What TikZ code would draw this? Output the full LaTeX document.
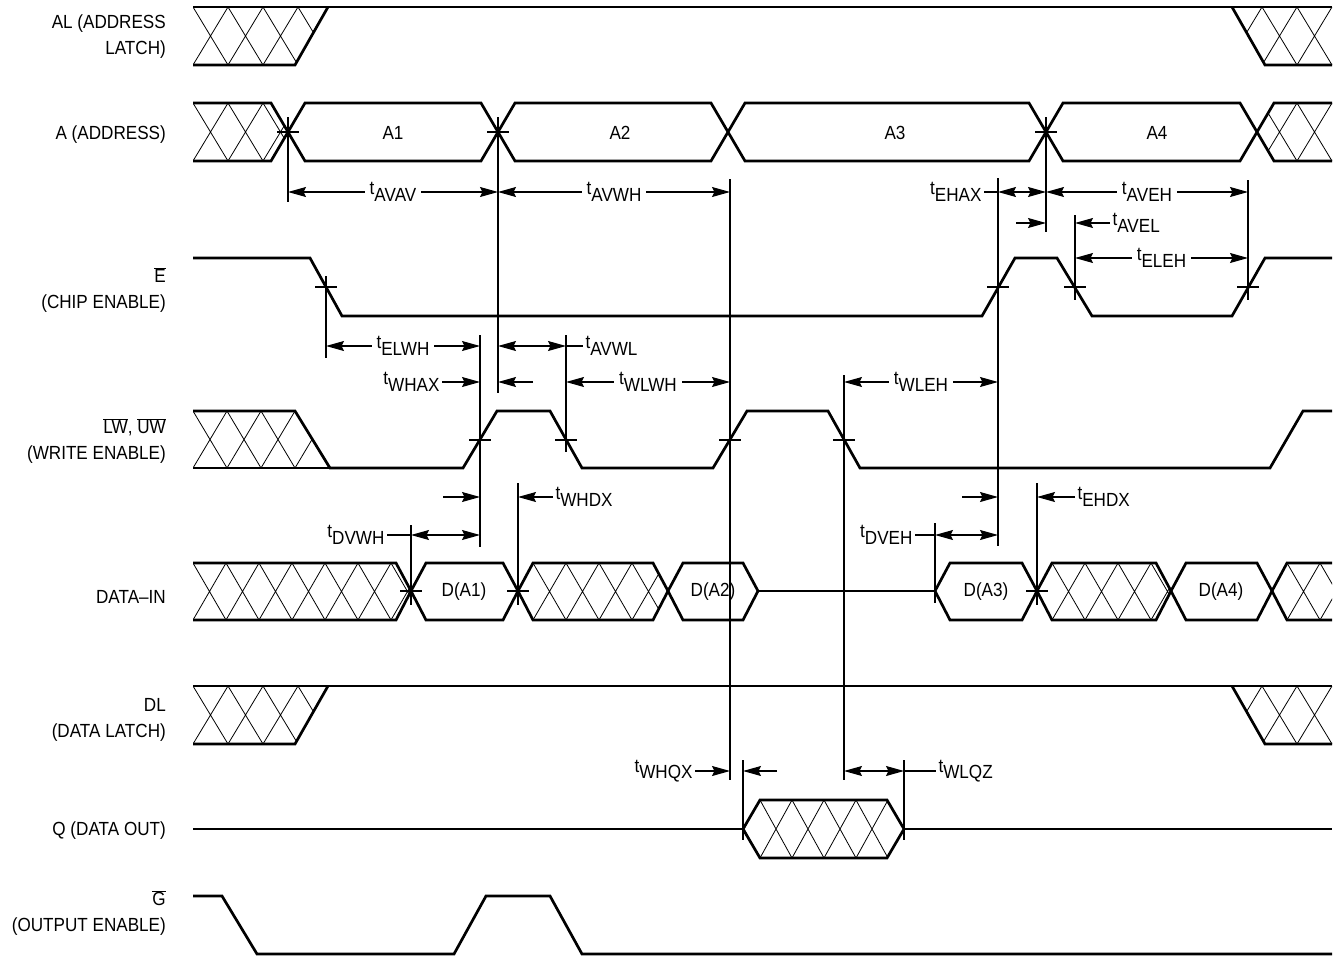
\documentclass[tikz,border=0pt]{standalone}
\usepackage{fontspec}
\setmainfont[FakeStretch=0.9]{Liberation Sans}
\usetikzlibrary{arrows.meta}

\newcommand\lblfont{\fontsize{19}{26}\selectfont}
\newcommand\tm[1]{t\raisebox{-6.5pt}{#1}}
% crossed hatching: clip path, x list, pitch, top y, bottom y
\newcommand\xhatch[5]{%
  \begin{scope}
    \clip #1;
    \foreach \x in {#2}
      \draw[hatchln] (\x,#4) -- ({\x+#3},#5) ({\x+#3},#4) -- (\x,#5);
  \end{scope}}

\tikzset{
  >={Stealth[length=18pt,width=10pt,inset=2.5pt]},
  sig/.style={line width=2.7pt,line join=miter},
  extln/.style={line width=1.1pt},
  hatchln/.style={line width=0.8pt},
  dim/.style={extln,<->},
  toarr/.style={extln,->},
  lbl/.style={anchor=east,align=right,font=\lblfont,inner sep=0pt},
  tlbl/.style={font=\lblfont,fill=white,inner xsep=5pt,inner ysep=1pt},
}

\begin{document}
\begin{tikzpicture}[x=1pt,y=-1pt]
\useasboundingbox (0,0) rectangle (1338,958);

% signal names
\node[lbl] (alName) at (166,37) {AL (ADDRESS\\LATCH)};
\node[lbl] (aName) at (166,135) {A (ADDRESS)};
\node[lbl] (eName) at (166,290) {$\overline{\hbox{E}}$\\(CHIP ENABLE)};
\node[lbl] (wName) at (166,441) {$\overline{\hbox{LW}}$, $\overline{\hbox{UW}}$\\(WRITE ENABLE)};
\node[lbl] (dinName) at (166,597) {DATA–IN};
\node[lbl] (dlName) at (166,720) {DL\\(DATA LATCH)};
\node[lbl] (qName) at (166,831) {Q (DATA OUT)};
\node[lbl] (gName) at (166,913) {$\overline{\hbox{G}}$\\(OUTPUT ENABLE)};

% AL
\xhatch{(193,7) -- (328,7) -- (295,65) -- (193,65) -- cycle}{193,228,...,333}{35}{7}{65}
\xhatch{(1232,7) -- (1332,7) -- (1332,65) -- (1265,65) -- cycle}{1227,1262,...,1332}{35}{7}{65}
\draw[sig] (193,7) -- (1332,7);
\draw[sig] (193,65) -- (295,65) -- (328,7);
\draw[sig] (1232,7) -- (1265,65) -- (1332,65);

% A
\xhatch{(193,103) -- (271,103) -- (288,132) -- (271,161) -- (193,161) -- cycle}{193,228,...,298}{35}{103}{161}
\xhatch{(1332,103) -- (1274,103) -- (1257,132) -- (1274,161) -- (1332,161) -- cycle}{1227,1262,...,1332}{35}{103}{161}
\draw[sig] (193,103) -- (271,103) -- (288,132) -- (271,161) -- (193,161);
\foreach \a/\b in {288/498,498/728,728/1046,1046/1257}
  \draw[sig] (\a,132) -- ({\a+17},103) -- ({\b-17},103) -- (\b,132) -- ({\b-17},161) -- ({\a+17},161) -- cycle;
\draw[sig] (1332,103) -- (1274,103) -- (1257,132) -- (1274,161) -- (1332,161);
\node[font=\lblfont] (aOne) at (393,133) {A1};
\node[font=\lblfont] (aTwo) at (620,133) {A2};
\node[font=\lblfont] (aThree) at (895,133) {A3};
\node[font=\lblfont] (aFour) at (1157,133) {A4};

% E
\draw[sig] (193,258) -- (310,258) -- (342,316) -- (982,316) -- (1015,258) -- (1057,258) -- (1092,316) -- (1232,316) -- (1265,258) -- (1332,258);

% LW, UW
\xhatch{(193,411) -- (295,411) -- (330,468) -- (193,468) -- cycle}{193,227,...,330}{34}{411}{468}
\draw[sig] (193,411) -- (295,411) -- (330,468) -- (463,468) -- (497,411) -- (550,411) -- (582,468) -- (713,468) -- (747,411) -- (828,411) -- (860,468) -- (1270,468) -- (1303,411) -- (1332,411);
\draw[sig] (193,468) -- (330,468);

% DATA-IN
\xhatch{(193,563) -- (396,563) -- (411,591) -- (396,620) -- (193,620) -- cycle}{193,226,...,420}{33}{563}{620}
\xhatch{(518,591) -- (533,563) -- (653,563) -- (668,591) -- (653,620) -- (533,620) -- cycle}{500,533,...,680}{33}{563}{620}
\xhatch{(1037,591) -- (1052,563) -- (1156,563) -- (1171,591) -- (1156,620) -- (1052,620) -- cycle}{1019,1052,...,1180}{33}{563}{620}
\xhatch{(1332,563) -- (1287,563) -- (1272,591) -- (1287,620) -- (1332,620) -- cycle}{1254,1287,...,1340}{33}{563}{620}
\draw[sig] (193,563) -- (396,563) -- (411,591) -- (396,620) -- (193,620);
\foreach \a/\b in {411/518,518/668,668/758,935/1037,1037/1171,1171/1272}
  \draw[sig] (\a,591) -- ({\a+15},563) -- ({\b-15},563) -- (\b,591) -- ({\b-15},620) -- ({\a+15},620) -- cycle;
\draw[sig] (758,591) -- (935,591);
\draw[sig] (1332,563) -- (1287,563) -- (1272,591) -- (1287,620) -- (1332,620);
\node[font=\lblfont] (dOne) at (464,592) {D(A1)};
\node[font=\lblfont] (dTwo) at (713,592) {D(A2)};
\node[font=\lblfont] (dThree) at (986,592) {D(A3)};
\node[font=\lblfont] (dFour) at (1221,592) {D(A4)};

% DL
\xhatch{(193,686) -- (328,686) -- (295,744) -- (193,744) -- cycle}{193,228,...,333}{35}{686}{744}
\xhatch{(1232,686) -- (1332,686) -- (1332,744) -- (1265,744) -- cycle}{1227,1262,...,1332}{35}{686}{744}
\draw[sig] (193,686) -- (1332,686);
\draw[sig] (193,744) -- (295,744) -- (328,686);
\draw[sig] (1232,686) -- (1265,744) -- (1332,744);

% Q
\xhatch{(743,829) -- (760,800) -- (887,800) -- (904,829) -- (887,858) -- (760,858) -- cycle}{728,760,...,910}{32}{800}{858}
\draw[sig] (193,829) -- (743,829);
\draw[sig] (743,829) -- (760,800) -- (887,800) -- (904,829) -- (887,858) -- (760,858) -- cycle;
\draw[sig] (904,829) -- (1332,829);

% G
\draw[sig] (193,896) -- (222,896) -- (257,954) -- (454,954) -- (486,896) -- (550,896) -- (582,954) -- (1332,954);

% timing points
\coordinate (a1) at (288,132);
\coordinate (a2) at (498,132);
\coordinate (a4) at (1046,132);
\coordinate (e1) at (326,287);
\coordinate (e2) at (998,287);
\coordinate (e3) at (1075,287);
\coordinate (e4) at (1248,287);
\coordinate (w1) at (480,440);
\coordinate (w2) at (566,440);
\coordinate (w3) at (730,440);
\coordinate (w4) at (844,440);
\coordinate (d1) at (411,591);
\coordinate (d2) at (518,591);
\coordinate (d3) at (935,591);
\coordinate (d4) at (1037,591);
\coordinate (q1) at (743,829);
\coordinate (q2) at (904,829);

\foreach \c in {a1,a2,a4,e1,e2,e3,e4,w1,w2,w3,w4,d1,d2,d4}
  \draw[extln] ([xshift=-11pt]\c) -- ([xshift=11pt]\c);
\foreach \c/\ya/\yb in {a1/117/202,a2/117/393,a4/117/232,e1/276/358,e2/178/546,e3/215/300,e4/180/300,w1/335/547,w2/335/452,w3/179/780,w4/375/780,d1/525/605,d2/483/605,d3/523/603,d4/483/605,q1/760/840,q2/760/840}
  \draw[extln] (\c |- 0,\ya) -- (\c |- 0,\yb);

% timing parameters
\draw[dim] (a1 |- 0,192) -- node[tlbl] (tavav) {\tm{AVAV}} (a2 |- 0,192);
\draw[dim] (a2 |- 0,192) -- node[tlbl] (tavwh) {\tm{AVWH}} (w3 |- 0,192);
\draw[dim] (e2 |- 0,192) -- (a4 |- 0,192);
\draw[extln] (e2 |- 0,192) -- ++(-14,0) node[tlbl,anchor=east,inner xsep=2pt] (tehax) {\tm{EHAX}};
\draw[dim] (a4 |- 0,192) -- node[tlbl] (taveh) {\tm{AVEH}} (e4 |- 0,192);
\draw[toarr] (1016,223) -- (a4 |- 0,223);
\draw[toarr] (1110,223) node[tlbl,anchor=west,inner xsep=2pt] (tavel) {\tm{AVEL}} -- (e3 |- 0,223);
\draw[dim] (e3 |- 0,258) -- node[tlbl] (teleh) {\tm{ELEH}} (e4 |- 0,258);
\draw[dim] (e1 |- 0,346) -- node[tlbl] (telwh) {\tm{ELWH}} (w1 |- 0,346);
\draw[dim] (a2 |- 0,346) -- (w2 |- 0,346);
\draw[extln] (w2 |- 0,346) -- ++(17,0) node[tlbl,anchor=west,inner xsep=2pt] (tavwl) {\tm{AVWL}};
\draw[toarr] (442,382) node[tlbl,anchor=east,inner xsep=2pt] (twhax) {\tm{WHAX}} -- (w1 |- 0,382);
\draw[toarr] (533,382) -- (a2 |- 0,382);
\draw[dim] (w2 |- 0,382) -- node[tlbl] (twlwh) {\tm{WLWH}} (w3 |- 0,382);
\draw[dim] (w4 |- 0,382) -- node[tlbl] (twleh) {\tm{WLEH}} (e2 |- 0,382);
\draw[toarr] (443,497) -- (w1 |- 0,497);
\draw[toarr] (553,497) node[tlbl,anchor=west,inner xsep=2pt] (twhdx) {\tm{WHDX}} -- (d2 |- 0,497);
\draw[toarr] (962,497) -- (e2 |- 0,497);
\draw[toarr] (1075,497) node[tlbl,anchor=west,inner xsep=2pt] (tehdx) {\tm{EHDX}} -- (d4 |- 0,497);
\draw[dim] (d1 |- 0,535) -- (w1 |- 0,535);
\draw[extln] (d1 |- 0,535) -- ++(-24,0) node[tlbl,anchor=east,inner xsep=2pt] (tdvwh) {\tm{DVWH}};
\draw[dim] (d3 |- 0,535) -- (e2 |- 0,535);
\draw[extln] (d3 |- 0,535) -- ++(-20,0) node[tlbl,anchor=east,inner xsep=2pt] (tdveh) {\tm{DVEH}};
\draw[toarr] (695,771) node[tlbl,anchor=east,inner xsep=2pt] (twhqx) {\tm{WHQX}} -- (w3 |- 0,771);
\draw[toarr] (777,771) -- (q1 |- 0,771);
\draw[dim] (w4 |- 0,771) -- (q2 |- 0,771);
\draw[extln] (q2 |- 0,771) -- ++(32,0) node[tlbl,anchor=west,inner xsep=2pt] (twlqz) {\tm{WLQZ}};
\end{tikzpicture}
\end{document}
